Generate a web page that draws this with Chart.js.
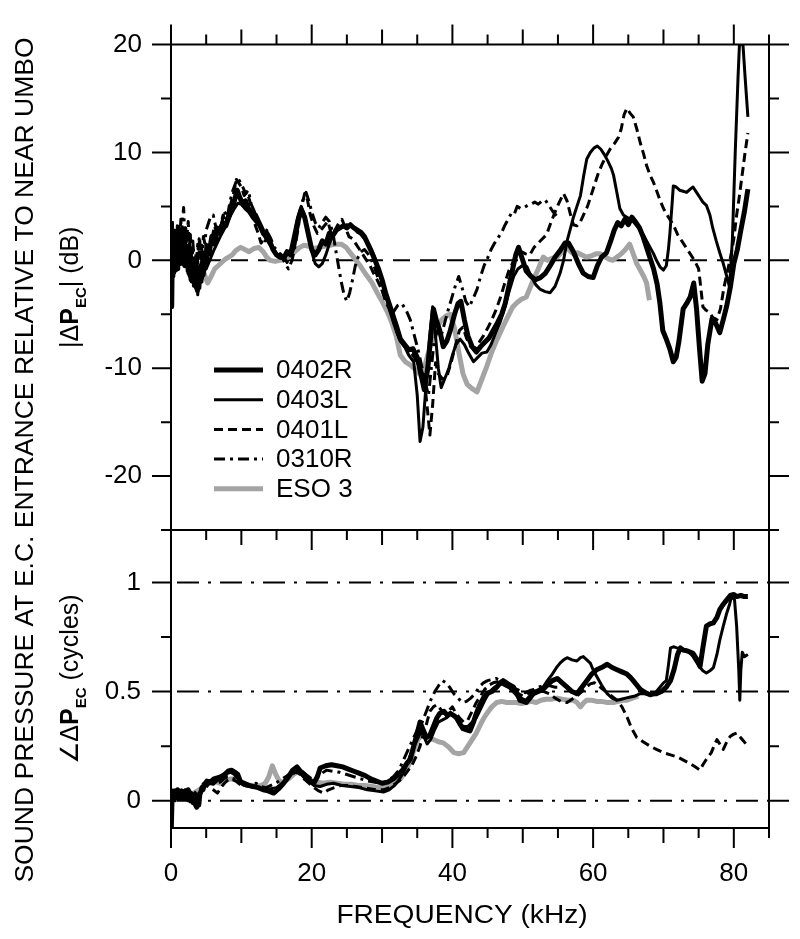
<!DOCTYPE html>
<html>
<head>
<meta charset="utf-8">
<script src="https://cdn.jsdelivr.net/npm/chart.js@4.4.1/dist/chart.umd.min.js"></script>
<style>
  html, body { margin: 0; padding: 0; background: #fff; }
  #wrap { position: relative; width: 800px; height: 939px; }
  #wrap canvas { position: absolute; left: 0; top: 0; }
</style>
</head>
<body>
<div id="wrap">
  <canvas id="magChart" width="800" height="939"></canvas>
  <canvas id="phaseChart" width="800" height="939"></canvas>
</div>
<script>
// ---- data: [frequency kHz, value] ----
const seriesNames = ['0402R', '0403L', '0401L', '0310R', 'ESO 3'];

const freqTicks = [0, 5, 10, 15, 20, 25, 30, 35, 40, 45, 50, 55, 60, 65, 70, 75, 80, 85];
const freqLabels = [0, 20, 40, 60, 80];
const magTicks = [-25, -20, -15, -10, -5, 0, 5, 10, 15, 20];
const magLabels = [20, 10, 0, -10, -20];
const phaseTicks = [0, 0.25, 0.5, 0.75, 1];
const phaseLabels = [0, 0.5, 1];
const magRefLines = [0];
const phaseRefLines = [0, 0.5, 1];

// magnitude |dP_EC| (dB)
const mag0402R = [[0,-1],[0.1,-4.3],[0.2,2],[0.3,-1],[0.4,1.5],[0.5,-0.5],[0.6,2.2],[0.7,0],[0.8,1.8],[0.9,-0.8],[1.0,2.5],[1.1,0.5],[1.2,1.8],[1.35,-0.3],[1.5,1.5],[1.65,0.2],[1.8,2],[1.95,-0.5],[2.1,1.2],[2.25,-0.2],[2.4,0.8],[2.55,-1.2],[2.7,0.3],[2.85,-1.8],[3.0,0],[3.15,-1.5],[3.3,-0.3],[3.45,-2.2],[3.6,-0.8],[3.75,-2.8],[3.9,-1],[4.05,-2],[4.2,-0.5],[4.35,-1.6],[4.5,0],[4.65,-1],[4.8,0.6],[5.0,-0.3],[5.2,1],[5.4,0.6],[5.8,2.2],[6.2,1.5],[6.6,3],[7.0,2.5],[7.4,3.5],[7.8,3.2],[8.2,4],[8.6,4.8],[9.0,5.5],[9.4,6.5],[9.8,5.8],[10.2,5.2],[10.6,5.5],[11.0,4.8],[11.5,4.5],[12.0,4.2],[12.5,3.5],[13.0,2.8],[13.5,2.3],[14.0,1.8],[14.5,1],[15.0,0.5],[15.5,0.3],[16.0,0.2],[16.5,0.8],[17.0,0.5],[17.5,1.5],[18.0,3.5],[18.5,4.7],[19.0,4],[19.5,2.5],[20.0,1],[20.5,0.5],[21.0,1],[21.5,1.8],[22.0,1.5],[22.5,2.5],[23.0,2.3],[23.5,2.8],[24.0,3],[24.5,3.2],[25.0,3],[25.5,3.3],[26.0,3],[26.5,2.8],[27.0,2.6],[27.5,2.2],[28.0,1.5],[28.5,0.8],[29.0,0],[29.5,-0.8],[30.0,-1.8],[30.5,-3],[31.0,-4],[31.5,-5],[32.0,-6],[32.6,-7.3],[33.2,-7.8],[33.8,-8.3],[34.4,-8.2],[35.0,-9],[35.5,-10.5],[36.0,-12],[36.5,-10],[37.0,-6.5],[37.3,-4.5],[37.7,-5.5],[38.2,-6.5],[38.7,-8],[39.2,-7.5],[39.7,-6.5],[40.3,-5],[40.8,-4],[41.2,-3.8],[41.7,-5.5],[42.2,-7],[42.8,-8],[43.4,-8.5],[44.0,-8],[44.6,-7.6],[45.2,-7.2],[45.8,-6.5],[46.4,-5.8],[47.0,-5],[47.5,-4],[48.0,-2.5],[48.5,-1],[49.0,0.5],[49.4,1.2],[49.9,0.2],[50.5,-1],[51.2,-1.5],[51.8,-1.8],[52.5,-1.6],[53.2,-1.2],[53.9,-0.5],[54.6,0.3],[55.3,0.9],[56.0,1.6],[56.5,1.6],[57.2,0.8],[57.9,-0.3],[58.6,-1.2],[59.3,-1.5],[60.0,-1.6],[60.6,-0.5],[61.2,0.3],[61.9,0.7],[62.5,1.8],[63.0,2.8],[63.5,3.5],[64.0,3.2],[64.5,3.8],[65.0,3.3],[65.5,4],[66.0,3.6],[66.6,3],[67.1,2.2],[67.6,1.2],[68.1,0.2],[68.6,-0.8],[69.1,-2.2],[69.5,-4],[69.9,-6.5],[70.4,-7.3],[70.9,-8.2],[71.4,-9.4],[71.8,-9],[72.2,-7.5],[72.8,-4.5],[73.3,-4],[73.8,-3.4],[74.3,-2.1],[74.7,-4.5],[75.1,-8],[75.5,-11.2],[75.9,-10.5],[76.3,-7.8],[76.9,-5.4],[77.4,-5.8],[78.0,-6.7],[78.5,-5.5],[79.0,-4.2],[79.5,-2.5],[80.0,-0.3],[80.5,1],[81.0,2.8],[81.5,4.5],[82.0,6.6]];
const mag0403L = [[0,1],[0.1,-2.5],[0.2,1.5],[0.3,-1.5],[0.4,2.8],[0.5,0.2],[0.6,1.2],[0.7,-1],[0.8,1.8],[0.9,0.3],[1.0,-0.8],[1.1,1.6],[1.25,-0.3],[1.4,1.2],[1.55,2.2],[1.7,0.4],[1.85,1.6],[2.0,-0.2],[2.15,0.8],[2.3,-1],[2.45,0.2],[2.6,-1.5],[2.75,-0.2],[2.9,-2],[3.05,-0.8],[3.2,-2.4],[3.35,-1],[3.5,-2.6],[3.65,-1.4],[3.8,-3.2],[3.95,-1.8],[4.1,-2.6],[4.25,-1],[4.4,-2],[4.55,-0.6],[4.7,-1.4],[4.85,-0.4],[5.0,-0.8],[5.5,0],[6.0,0.8],[6.5,1.5],[7.0,2.2],[7.5,2.8],[8.0,3.5],[8.5,4.2],[9.0,4.8],[9.5,5.3],[10.0,5.2],[10.5,4.8],[11.0,4.5],[11.5,4],[12.0,3.6],[12.5,3.2],[13.0,2.5],[13.5,2],[14.0,1.5],[14.5,1],[15.0,0.6],[15.5,0.4],[16.0,0.2],[16.5,0.5],[17.0,1],[17.5,2.5],[18.0,4],[18.5,5],[19.0,4.2],[19.5,2.5],[20.0,0.8],[20.5,-0.3],[21.0,-0.6],[21.5,-0.3],[22.0,0.5],[22.5,1.5],[23.0,2.3],[23.5,2.8],[24.0,3.1],[24.5,3.2],[25.0,3.3],[25.5,3.2],[26.0,3],[26.5,2.6],[27.0,2.4],[27.5,2],[28.0,1.6],[28.5,1],[29.0,0.2],[29.5,-0.8],[30.0,-2],[30.5,-3.2],[31.0,-4.5],[31.5,-5.5],[32.0,-6.5],[32.6,-7.5],[33.2,-8],[33.8,-8.8],[34.5,-9.4],[35.0,-12.5],[35.4,-16.8],[35.8,-15.5],[36.2,-12],[36.7,-7.5],[37.2,-4.3],[37.6,-7],[38.0,-10],[38.4,-11.8],[38.9,-11],[39.5,-10],[40.0,-8.8],[40.5,-7.8],[41.1,-7.3],[41.7,-7.8],[42.3,-8.6],[43.0,-9.4],[43.6,-9],[44.2,-8.6],[44.9,-8.5],[45.5,-7.8],[46.1,-6.8],[46.8,-5.7],[47.4,-4.5],[48.0,-3],[48.7,-1.5],[49.3,-0.8],[49.9,-0.5],[50.6,-0.6],[51.2,-1.5],[51.9,-2.3],[52.5,-2.7],[53.2,-2.9],[53.9,-3],[54.6,-2.4],[55.3,-1.2],[55.8,0],[56.3,1.8],[56.8,3],[57.2,4],[57.7,5],[58.2,6],[58.7,8],[59.1,9.4],[59.6,10],[60.1,10.4],[60.6,10.6],[61.1,10.3],[61.6,9.8],[62.1,9.2],[62.6,8.5],[62.9,7.9],[63.4,6.2],[63.8,4.8],[64.3,4.2],[64.8,4],[65.3,3.8],[65.7,3.6],[66.2,3.2],[66.7,2.8],[67.2,2.3],[67.6,1.8],[68.1,1.2],[68.6,0.6],[69.0,0],[69.5,-0.6],[70.0,-0.9],[70.4,-0.5],[70.7,1],[70.9,2.4],[71.2,5],[71.4,6.9],[71.8,6.8],[72.3,6.5],[72.8,6.4],[73.3,6.3],[73.8,6.6],[74.2,6.8],[74.7,6.3],[75.2,5.8],[75.6,5.4],[76.1,5.1],[76.6,4.2],[77.0,3],[77.5,1.8],[78.0,0.7],[78.5,-0.3],[79.0,-1.5],[79.4,-2.5],[79.8,2],[80.2,10],[80.6,17],[80.8,20],[81.3,20],[81.6,17],[82.0,13.3]];
const mag0401L = [[0,2],[0.1,-3.5],[0.2,3.5],[0.3,0],[0.4,2.8],[0.5,-1.2],[0.6,3],[0.7,0.8],[0.8,-0.5],[0.9,2],[1.0,1],[1.1,3.2],[1.25,0.5],[1.4,2.8],[1.55,0.2],[1.7,2.2],[1.85,1],[2.0,3.2],[2.15,0.6],[2.3,2.5],[2.45,3.6],[2.6,1.2],[2.75,2.4],[2.9,0.2],[3.05,1],[3.2,-1],[3.35,0.4],[3.5,-1.8],[3.65,0.2],[3.8,1.5],[3.95,0.3],[4.1,1.8],[4.25,-0.2],[4.4,0.8],[4.55,-0.6],[4.7,1],[4.85,0.2],[5.0,1.8],[5.4,0.5],[5.8,2],[6.2,3.2],[6.6,2.2],[7.0,3],[7.4,4.2],[7.8,3.5],[8.2,4.5],[8.6,5.5],[9.0,6.5],[9.3,7.5],[9.6,7.2],[10.0,6.8],[10.4,6],[10.8,6.3],[11.2,5.5],[11.6,4.5],[12.0,3.2],[12.4,2.5],[12.8,1.6],[13.2,2],[13.6,2.8],[14.0,1.8],[14.5,1.2],[15.0,0.6],[15.5,0.2],[16.0,0.4],[16.5,-0.2],[17.0,0.5],[17.5,1.5],[18.0,3],[18.5,4.8],[19.0,6.2],[19.4,5.6],[19.8,4.2],[20.3,3.2],[20.8,2.5],[21.3,2.8],[21.8,3.2],[22.3,3.6],[22.8,2.4],[23.3,2.8],[23.8,3.4],[24.3,3.8],[24.8,3],[25.3,2.2],[25.8,2],[26.3,1.5],[26.8,1],[27.3,0.5],[27.8,0],[28.3,-0.5],[28.8,-1.2],[29.3,-1.8],[29.8,-2.5],[30.3,-3.2],[30.8,-4],[31.4,-5.2],[32.0,-6.5],[32.6,-7.5],[33.2,-8],[33.8,-8.4],[34.4,-8.8],[35.0,-9.5],[35.5,-10],[36.0,-11],[36.4,-13.5],[36.8,-16.2],[37.2,-13.3],[37.6,-9.5],[38.0,-10.5],[38.6,-11],[39.2,-10.8],[39.8,-9.5],[40.4,-8],[41.0,-6.5],[41.5,-6.2],[42.0,-7.2],[42.6,-8],[43.2,-8.2],[43.8,-7.6],[44.4,-7],[45.0,-6.3],[45.6,-5.5],[46.2,-4.6],[46.8,-3.5],[47.4,-2.2],[48.0,-1],[48.6,-0.2],[49.2,0.4],[49.8,0.8],[50.4,0.6],[51.0,0.5],[51.6,1.2],[52.2,1.6],[52.8,2],[53.4,2.4],[54.0,3.5],[54.6,4.5],[55.2,5.4],[55.8,6.2],[56.3,5.5],[56.8,4.2],[57.2,3.3],[57.7,3.2],[58.2,3.6],[58.7,4.3],[59.2,5],[59.7,6],[60.2,7],[60.7,8],[61.2,8.8],[61.8,9.6],[62.4,10.3],[63.0,10.8],[63.6,11.4],[64.0,12.2],[64.4,13.5],[64.8,14.1],[65.3,13.6],[65.7,13.3],[66.2,12.2],[66.7,10.9],[67.2,9.8],[67.6,8.8],[68.1,7.9],[68.6,7.2],[69.0,6.5],[69.5,5.6],[70.0,4.8],[70.7,4],[71.4,3.3],[72.0,2.4],[72.6,1.8],[73.2,1.2],[73.8,0.6],[74.4,0],[75.0,-0.8],[75.3,-2.5],[75.6,-4.3],[76.0,-4.6],[76.5,-4.8],[77.0,-5.3],[77.6,-5.5],[78.1,-4.5],[78.6,-2.5],[79.1,-1],[79.6,0.5],[80.0,2],[80.4,4.2],[80.8,6],[81.2,8],[81.6,10],[82.0,11.8]];
const mag0310R = [[0,1],[0.1,-4.5],[0.2,3.5],[0.3,1],[0.4,-0.5],[0.5,2.8],[0.6,1.8],[0.7,-0.2],[0.8,1.2],[0.9,3.2],[1.0,1.5],[1.1,3.5],[1.2,1],[1.3,2.5],[1.4,3.8],[1.5,2.2],[1.6,3.6],[1.7,4.2],[1.8,4.9],[1.9,3],[2.0,1.8],[2.1,3],[2.2,0.8],[2.35,2],[2.5,0.2],[2.65,1.5],[2.8,-0.5],[2.95,1],[3.1,1.8],[3.25,0.4],[3.4,-0.8],[3.55,0.6],[3.7,-1.2],[3.85,0.8],[4.0,2],[4.15,0.8],[4.3,1.6],[4.45,0.6],[4.6,2.2],[4.8,1.6],[5.0,2.8],[5.2,3.2],[5.6,4],[6.0,4.2],[6.4,3],[6.8,2.2],[7.2,3.5],[7.6,4.5],[8.0,4],[8.4,5.5],[8.8,6.5],[9.2,7.2],[9.5,7.6],[9.8,7.3],[10.2,6.8],[10.6,6.2],[11.0,6.5],[11.4,5.2],[11.8,4.6],[12.2,4],[12.6,3.2],[13.0,2.5],[13.4,1.8],[13.8,2.5],[14.2,2],[14.7,1.2],[15.2,0.8],[15.7,0.5],[16.2,-0.3],[16.7,-0.8],[17.2,0],[17.7,1.5],[18.2,3.5],[18.7,5.5],[19.2,6.3],[19.6,5.5],[20.0,4.5],[20.5,3.5],[21.0,3],[21.5,3.5],[22.0,4],[22.5,3.6],[23.0,2.6],[23.4,1],[23.8,-0.5],[24.2,-2],[24.6,-3.2],[25.0,-3.8],[25.4,-3],[25.8,-1.8],[26.2,-0.5],[26.6,0.3],[27.0,0.8],[27.5,1],[28.0,0.6],[28.5,0],[29.0,-0.8],[29.5,-1.8],[30.0,-2.8],[30.5,-3.8],[31.0,-4.5],[31.6,-4.8],[32.2,-4.2],[32.8,-4],[33.4,-4.6],[34.0,-5.5],[34.6,-7],[35.2,-8.5],[35.7,-10],[36.2,-11.5],[36.6,-12.5],[37.0,-10],[37.4,-7.5],[37.9,-6.5],[38.4,-7],[38.9,-5.8],[39.4,-4.6],[39.9,-3.5],[40.4,-2.4],[40.9,-1.5],[41.4,-2.6],[41.9,-3.8],[42.4,-4.3],[42.9,-3.6],[43.5,-2.7],[44.0,-1.5],[44.5,-0.5],[45.0,0.2],[45.5,1],[46.0,1.6],[46.5,2.1],[47.0,2.6],[47.5,3.3],[48.0,3.9],[48.4,4.4],[48.8,4.3],[49.2,5],[49.7,4.8],[50.2,4.9],[50.7,5.1],[51.2,5.2],[51.7,5.4],[52.2,5.2],[52.7,5.5],[53.2,5.6],[53.7,5.1],[54.2,4.6],[54.7,4.2],[55.0,4]];
const magESO3 = [[0,0],[0.4,0.6],[0.8,-0.2],[1.2,0.4],[1.7,0],[2.2,0.3],[2.7,-0.4],[3.2,-0.2],[3.7,-0.6],[4.2,-0.3],[4.7,-1.2],[5.2,-2.1],[5.7,-1.5],[6.2,-0.8],[6.7,-0.5],[7.2,-0.2],[7.7,0.1],[8.2,0.3],[8.7,0.5],[9.2,0.9],[9.9,1.2],[10.5,1],[11.1,0.8],[11.8,1.1],[12.5,1.2],[13.1,0.8],[13.6,0.3],[14.1,0],[14.8,-0.1],[15.5,0],[16.2,0.1],[16.9,0.4],[17.6,0.8],[18.3,1.2],[18.9,1.4],[19.6,1.3],[20.3,1.1],[21.0,1.2],[21.8,1.3],[22.6,1.4],[23.4,1.5],[24.2,1.5],[24.9,1.2],[25.6,0.6],[26.3,0],[27.0,-0.6],[27.7,-1.3],[28.5,-2],[29.3,-3],[30.0,-3.8],[30.7,-4.7],[31.4,-5.8],[32.0,-7],[32.6,-8.8],[33.3,-9.4],[34.0,-9.7],[34.7,-10.1],[35.4,-10.6],[36.0,-10],[36.6,-8.5],[37.2,-7.2],[37.8,-6.2],[38.5,-5.5],[39.2,-5.1],[39.7,-5],[40.3,-6.3],[40.9,-8.5],[41.5,-10.5],[42.1,-11.5],[42.8,-11.9],[43.5,-12.2],[44.2,-11],[44.9,-9.8],[45.6,-8.5],[46.3,-7.4],[46.8,-6.7],[47.3,-6],[47.9,-5.2],[48.6,-4.3],[49.2,-3.9],[49.8,-3.6],[50.5,-3.4],[51.0,-2.6],[51.5,-1.8],[52.2,-0.8],[52.9,0.3],[53.5,0],[54.2,0.2],[54.9,0.3],[55.6,0.8],[56.3,1.2],[56.8,0.8],[57.2,0.6],[57.8,0.7],[58.4,0.5],[59.0,0.3],[59.7,0.4],[60.4,0.6],[61.0,0.6],[61.7,0.3],[62.3,0.1],[62.8,0],[63.4,0.3],[64.0,0.6],[64.6,1],[65.2,1.5],[65.7,0.6],[66.2,-0.3],[66.7,-0.9],[67.2,-1.5],[67.6,-2.1],[68.0,-3.7]];

// phase angle dP_EC (cycles)
const ph0402R = [[0,0],[0.05,-0.12],[0.15,0.02],[0.25,0.045],[0.35,0.01],[0.45,0.04],[0.55,0.015],[0.65,0.045],[0.8,0.02],[0.95,0.05],[1.1,0.015],[1.25,0.04],[1.4,0.01],[1.55,0.045],[1.7,0.02],[1.85,0.04],[2.0,0.01],[2.15,0.045],[2.3,0.025],[2.45,0.05],[2.6,0.02],[2.75,0.035],[2.9,0],[3.05,0.02],[3.2,-0.01],[3.35,0.01],[3.5,-0.02],[3.65,-0.03],[3.8,0],[3.95,-0.02],[4.1,0.03],[4.25,0.04],[4.4,0.06],[4.55,0.05],[4.7,0.075],[4.9,0.08],[5.1,0.09],[5.6,0.085],[6.1,0.1],[6.6,0.105],[7.1,0.11],[7.6,0.12],[8.1,0.135],[8.6,0.14],[9.1,0.13],[9.5,0.12],[9.9,0.085],[10.4,0.075],[11.0,0.07],[11.7,0.065],[12.4,0.06],[13.1,0.05],[13.8,0.045],[14.6,0.035],[15.3,0.055],[16.0,0.08],[16.7,0.11],[17.3,0.14],[17.9,0.155],[18.4,0.135],[18.8,0.125],[19.5,0.1],[20.3,0.08],[20.8,0.11],[21.2,0.15],[22.0,0.16],[22.8,0.165],[23.6,0.16],[24.4,0.155],[25.2,0.145],[26.0,0.135],[26.8,0.125],[27.6,0.115],[28.4,0.1],[29.2,0.09],[30.0,0.08],[30.8,0.085],[31.6,0.1],[32.3,0.12],[32.9,0.14],[33.5,0.17],[34.0,0.19],[34.5,0.25],[35.0,0.31],[35.4,0.36],[35.9,0.32],[36.3,0.29],[36.8,0.3],[37.3,0.34],[37.8,0.38],[38.2,0.4],[38.8,0.41],[39.3,0.39],[39.7,0.4],[40.2,0.39],[40.6,0.38],[41.1,0.35],[41.5,0.33],[42.0,0.325],[42.5,0.32],[43.0,0.36],[43.4,0.4],[43.9,0.44],[44.4,0.47],[44.9,0.49],[45.6,0.5],[46.3,0.52],[46.8,0.54],[47.2,0.55],[47.9,0.535],[48.7,0.52],[49.2,0.49],[49.6,0.46],[50.1,0.455],[50.5,0.45],[51.0,0.47],[51.5,0.49],[52.2,0.5],[52.9,0.51],[53.5,0.53],[54.2,0.55],[54.9,0.56],[55.6,0.54],[56.3,0.52],[57.0,0.5],[57.7,0.49],[58.4,0.52],[59.1,0.55],[59.8,0.58],[60.5,0.6],[61.2,0.61],[62.0,0.625],[62.7,0.61],[63.4,0.6],[64.1,0.59],[64.8,0.58],[65.3,0.565],[65.7,0.55],[66.2,0.53],[66.7,0.51],[67.4,0.495],[68.1,0.485],[68.6,0.49],[69.0,0.49],[69.7,0.5],[70.4,0.52],[71.0,0.55],[71.5,0.6],[72.0,0.67],[72.4,0.7],[72.8,0.69],[73.5,0.685],[74.2,0.675],[74.7,0.65],[75.2,0.615],[75.6,0.7],[76.1,0.8],[76.6,0.81],[77.1,0.815],[77.6,0.84],[78.0,0.875],[78.5,0.9],[79.0,0.92],[79.5,0.94],[80.0,0.945],[80.4,0.935],[81.0,0.94],[81.5,0.935],[82.0,0.935]];
const ph0403L = [[0,0.02],[0.15,0.045],[0.3,0.01],[0.45,0.04],[0.6,0],[0.75,0.035],[0.9,0.01],[1.05,0.04],[1.2,0.005],[1.35,0.03],[1.5,0.015],[1.65,0.04],[1.8,0.01],[1.95,0.035],[2.1,0.005],[2.25,0.03],[2.4,0],[2.55,0.025],[2.7,-0.005],[2.85,0.02],[3.0,-0.01],[3.15,0.02],[3.3,-0.015],[3.45,0.01],[3.6,-0.02],[3.75,0.015],[3.9,0.03],[4.05,0.02],[4.2,0.05],[4.35,0.04],[4.5,0.065],[4.7,0.06],[4.9,0.075],[5.1,0.07],[5.5,0.08],[6.0,0.075],[6.5,0.09],[7.0,0.1],[7.5,0.12],[8.0,0.125],[8.5,0.13],[9.0,0.12],[9.5,0.1],[10.0,0.08],[10.5,0.07],[11.2,0.065],[12.0,0.06],[12.8,0.055],[13.5,0.05],[14.2,0.055],[15.0,0.06],[15.8,0.08],[16.5,0.1],[17.2,0.125],[17.9,0.14],[18.5,0.12],[19.1,0.1],[19.7,0.085],[20.3,0.07],[21.2,0.065],[22.1,0.075],[23.1,0.08],[24.3,0.07],[25.5,0.065],[26.7,0.06],[27.9,0.05],[29.0,0.045],[30.2,0.04],[31.0,0.05],[31.8,0.07],[32.5,0.1],[33.2,0.14],[33.8,0.19],[34.4,0.24],[35.0,0.28],[35.6,0.32],[36.0,0.29],[36.4,0.26],[36.9,0.28],[37.4,0.32],[38.0,0.36],[38.6,0.37],[39.2,0.38],[39.8,0.4],[40.4,0.38],[41.0,0.35],[41.6,0.34],[42.2,0.34],[42.8,0.36],[43.4,0.38],[44.0,0.42],[44.6,0.46],[45.3,0.5],[46.0,0.52],[46.7,0.53],[47.4,0.54],[48.0,0.52],[48.6,0.5],[49.2,0.48],[49.8,0.47],[50.4,0.46],[51.0,0.48],[51.6,0.5],[52.3,0.51],[52.9,0.52],[53.5,0.55],[54.2,0.58],[54.8,0.61],[55.3,0.63],[55.8,0.645],[56.3,0.655],[57.0,0.645],[57.7,0.64],[58.2,0.655],[58.6,0.66],[59.1,0.645],[59.6,0.63],[60.0,0.6],[60.5,0.57],[61.2,0.53],[62.0,0.49],[62.7,0.47],[63.4,0.46],[64.0,0.465],[64.6,0.47],[65.3,0.475],[66.0,0.48],[66.7,0.49],[67.6,0.49],[68.6,0.485],[69.0,0.5],[69.5,0.52],[70.0,0.54],[70.4,0.55],[70.7,0.62],[71.0,0.7],[71.5,0.705],[71.9,0.7],[72.6,0.695],[73.3,0.69],[73.8,0.675],[74.2,0.66],[74.7,0.635],[75.2,0.61],[75.6,0.595],[76.1,0.585],[76.6,0.595],[77.1,0.61],[77.6,0.67],[78.0,0.735],[78.5,0.8],[79.0,0.86],[79.4,0.9],[79.7,0.94],[80.1,0.92],[80.4,0.8],[80.7,0.6],[80.85,0.46],[81.0,0.6],[81.2,0.68],[81.5,0.66],[82.0,0.67]];
const ph0401L = [[0,0.03],[0.3,0.01],[0.6,0.04],[1.0,0.02],[1.4,0.045],[1.8,0.025],[2.2,0.04],[2.6,0.02],[3.0,0.035],[3.5,0.02],[4.0,0.045],[4.5,0.06],[5.0,0.07],[5.5,0.06],[6.0,0.05],[6.6,0.035],[7.1,0.06],[7.6,0.08],[8.1,0.095],[8.6,0.1],[9.2,0.09],[9.8,0.075],[10.5,0.07],[11.3,0.065],[12.1,0.06],[13.0,0.055],[14.0,0.05],[14.8,0.04],[15.5,0.06],[16.2,0.09],[16.9,0.11],[17.6,0.13],[18.2,0.125],[18.9,0.1],[19.6,0.08],[20.3,0.06],[21.0,0.045],[21.7,0.035],[22.4,0.05],[23.2,0.06],[24.2,0.07],[25.2,0.07],[26.2,0.065],[27.2,0.06],[28.2,0.055],[29.2,0.05],[30.2,0.05],[31.1,0.06],[32.0,0.08],[32.8,0.1],[33.5,0.13],[34.2,0.16],[34.8,0.2],[35.4,0.25],[35.9,0.31],[36.3,0.35],[36.8,0.41],[37.3,0.43],[37.8,0.44],[38.3,0.42],[38.8,0.4],[39.4,0.41],[40.0,0.43],[40.5,0.4],[41.0,0.38],[41.6,0.36],[42.2,0.37],[42.8,0.41],[43.4,0.45],[44.0,0.48],[44.6,0.51],[45.2,0.53],[45.8,0.54],[46.4,0.545],[47.0,0.535],[47.6,0.525],[48.2,0.515],[48.8,0.5],[49.4,0.49],[50.0,0.48],[50.7,0.49],[51.4,0.5],[52.2,0.505],[53.0,0.5],[53.8,0.49],[54.6,0.47],[55.4,0.455],[56.3,0.45],[57.0,0.465],[57.7,0.48],[58.4,0.5],[59.0,0.52],[59.6,0.535],[60.2,0.54],[60.7,0.53],[61.2,0.515],[61.8,0.5],[62.6,0.48],[63.4,0.46],[64.1,0.43],[64.8,0.385],[65.5,0.33],[66.2,0.29],[67.1,0.27],[68.1,0.25],[69.0,0.235],[70.0,0.22],[71.0,0.21],[72.0,0.2],[72.9,0.185],[73.8,0.17],[74.5,0.155],[75.2,0.14],[75.6,0.165],[76.1,0.19],[76.8,0.22],[77.3,0.26],[77.6,0.28],[78.1,0.255],[78.5,0.235],[79.0,0.27],[79.5,0.295],[80.0,0.305],[80.4,0.31],[80.8,0.295],[81.2,0.28],[81.6,0.265],[82.0,0.25]];
const ph0310R = [[0,0.02],[0.4,0.045],[0.8,0.02],[1.2,0.04],[1.6,0.03],[2.0,0.05],[2.5,0.03],[3.0,0.05],[3.5,0.035],[4.0,0.03],[4.5,0.055],[5.0,0.07],[5.5,0.085],[6.0,0.09],[6.5,0.08],[7.0,0.085],[7.5,0.1],[8.0,0.11],[8.5,0.105],[9.0,0.1],[9.5,0.095],[10.0,0.09],[10.7,0.08],[11.4,0.07],[12.1,0.08],[12.8,0.065],[13.5,0.06],[14.2,0.07],[14.9,0.08],[15.6,0.095],[16.3,0.11],[17.0,0.125],[17.6,0.14],[18.2,0.15],[18.8,0.13],[19.4,0.115],[20.0,0.1],[20.7,0.11],[21.4,0.125],[22.1,0.14],[23.0,0.135],[24.0,0.13],[25.0,0.12],[26.0,0.11],[27.0,0.1],[28.0,0.09],[29.0,0.085],[30.0,0.08],[30.8,0.09],[31.6,0.11],[32.4,0.14],[33.1,0.19],[33.8,0.24],[34.5,0.29],[35.1,0.33],[35.7,0.36],[36.3,0.41],[36.9,0.46],[37.5,0.5],[38.1,0.53],[38.6,0.55],[39.1,0.54],[39.6,0.52],[40.2,0.49],[40.8,0.47],[41.4,0.45],[42.0,0.455],[42.6,0.47],[43.2,0.49],[43.8,0.52],[44.4,0.54],[45.0,0.55],[45.6,0.555],[46.2,0.56],[46.8,0.55],[47.4,0.54],[48.0,0.53],[48.6,0.52],[49.2,0.51],[49.8,0.5],[50.4,0.495],[51.0,0.505],[51.6,0.51],[52.2,0.52],[52.8,0.525],[53.4,0.53],[54.0,0.525],[54.6,0.52],[55.0,0.52]];
const phESO3 = [[0,0.01],[0.5,0.03],[1.0,0.02],[1.5,0.04],[2.0,0.035],[2.5,0.045],[3.0,0.03],[3.5,0.04],[4.0,0.05],[4.5,0.06],[5.0,0.075],[5.5,0.08],[6.0,0.09],[6.5,0.085],[7.0,0.08],[7.5,0.09],[8.0,0.095],[8.5,0.1],[9.0,0.1],[9.5,0.095],[10.0,0.085],[10.7,0.075],[11.4,0.07],[12.1,0.065],[12.8,0.07],[13.4,0.08],[13.9,0.11],[14.4,0.16],[14.9,0.12],[15.4,0.09],[16.0,0.085],[16.7,0.1],[17.4,0.12],[18.0,0.135],[18.6,0.125],[19.3,0.105],[20.0,0.09],[20.8,0.085],[21.6,0.08],[22.6,0.085],[23.6,0.08],[24.6,0.075],[25.6,0.075],[26.6,0.07],[27.6,0.07],[28.6,0.065],[29.6,0.06],[30.6,0.065],[31.6,0.08],[32.6,0.1],[33.3,0.13],[34.0,0.18],[34.6,0.24],[35.1,0.28],[35.6,0.3],[36.3,0.29],[37.3,0.28],[38.0,0.27],[38.7,0.265],[39.5,0.245],[40.2,0.22],[40.9,0.215],[41.6,0.22],[42.1,0.245],[42.5,0.265],[43.0,0.29],[43.4,0.31],[44.0,0.35],[44.5,0.38],[44.9,0.4],[45.6,0.43],[46.3,0.45],[47.0,0.455],[47.7,0.45],[48.4,0.45],[49.1,0.45],[49.8,0.445],[50.5,0.45],[51.2,0.455],[51.9,0.45],[52.6,0.46],[53.3,0.465],[54.0,0.465],[54.9,0.47],[55.6,0.465],[56.4,0.46],[57.2,0.46],[57.7,0.45],[58.2,0.43],[58.7,0.45],[59.1,0.46],[59.8,0.46],[60.5,0.455],[61.2,0.455],[62.0,0.45],[62.9,0.45],[63.6,0.455],[64.3,0.46],[64.8,0.46],[65.6,0.47],[66.4,0.48]];

const magSeries = [mag0402R, mag0403L, mag0401L, mag0310R, magESO3];
const phaseSeries = [ph0402R, ph0403L, ph0401L, ph0310R, phESO3];

// ---- styles ----
const FONT = '"Liberation Sans", Arial, Helvetica, sans-serif';
const GRAY = '#a4a4a4';
const seriesStyle = [
  { color: '#000', width: 5, dash: [] },
  { color: '#000', width: 3, dash: [] },
  { color: '#000', width: 3, dash: [9, 5] },
  { color: '#000', width: 3, dash: [11, 5, 3, 5] },
  { color: GRAY,  width: 5, dash: [] }
];

Chart.defaults.font.family = FONT;
Chart.defaults.color = '#000';

function makeDatasets(list) {
  return list.map((pts, i) => ({
    label: seriesNames[i],
    data: pts.map(p => ({ x: p[0], y: p[1] })),
    borderColor: seriesStyle[i].color,
    borderWidth: seriesStyle[i].width,
    borderDash: seriesStyle[i].dash,
    borderJoinStyle: 'round',
    pointRadius: 0,
    tension: 0,
    fill: false
  }));
}

function freqTickLen(f) { return f % 20 === 0 ? 20 : (f % 10 === 0 ? 15 : 10); }

// axes frame with outward / inward tick marks
const framePlugin = {
  id: 'frame',
  afterDatasetsDraw(chart, args, o) {
    const { ctx, chartArea: a, scales: { x, y } } = chart;
    ctx.save();
    ctx.strokeStyle = '#000';
    ctx.lineWidth = 2;
    ctx.setLineDash([]);
    ctx.beginPath();
    ctx.moveTo(a.left, a.top - o.leftTop); ctx.lineTo(a.left, a.bottom + o.leftBottom);
    ctx.moveTo(a.right, a.top - o.rightTop); ctx.lineTo(a.right, a.bottom + o.rightBottom);
    o.hLines.forEach(h => {
      const yy = h.edge === 'top' ? a.top : a.bottom;
      ctx.moveTo(a.left - h.extL, yy); ctx.lineTo(a.right + h.extR, yy);
      freqTicks.forEach(f => {
        const px = x.getPixelForValue(f);
        ctx.moveTo(px, yy); ctx.lineTo(px, yy + h.dir * freqTickLen(f));
      });
    });
    o.yTicks.forEach(v => {
      const py = y.getPixelForValue(v);
      const major = Math.abs(v / o.majorStep - Math.round(v / o.majorStep)) < 1e-6;
      ctx.moveTo(a.left - (major ? 19 : 10), py); ctx.lineTo(a.left, py);
      ctx.moveTo(a.right, py); ctx.lineTo(a.right + (major ? 20 : 10), py);
    });
    ctx.stroke();
    ctx.restore();
  }
};

// dashed reference lines
const refPlugin = {
  id: 'refLines',
  beforeDatasetsDraw(chart, args, o) {
    const { ctx, chartArea: a, scales: { y } } = chart;
    ctx.save();
    ctx.strokeStyle = '#000';
    ctx.lineWidth = 2;
    ctx.setLineDash(o.dash);
    o.values.forEach(v => {
      const py = y.getPixelForValue(v);
      ctx.beginPath();
      ctx.moveTo(a.left + 6, py); ctx.lineTo(a.right, py);
      ctx.stroke();
    });
    ctx.restore();
  }
};

function drawRotatedRich(ctx, parts, baseX, centerY) {
  ctx.save();
  ctx.translate(baseX, centerY);
  ctx.rotate(-Math.PI / 2);
  ctx.fillStyle = '#000';
  ctx.textAlign = 'left';
  ctx.textBaseline = 'alphabetic';
  let total = 0;
  parts.forEach(p => { ctx.font = p.font; p.w = ctx.measureText(p.text).width; total += p.w; });
  let cx = -total / 2;
  parts.forEach(p => { ctx.font = p.font; ctx.fillText(p.text, cx, p.dy || 0); cx += p.w; });
  ctx.restore();
}

const textPlugin = {
  id: 'texts',
  afterDraw(chart, args, o) {
    const ctx = chart.ctx;
    const a = chart.chartArea;
    const midY = (a.top + a.bottom) / 2;
    if (o.mainTitle) {
      drawRotatedRich(ctx, [{ text: o.mainTitle, font: '26.5px ' + FONT }], 33, 460);
    }
    drawRotatedRich(ctx, o.panelTitle, 78, midY);
    if (o.xTitle) {
      ctx.save();
      ctx.font = '26px ' + FONT;
      ctx.fillStyle = '#000';
      ctx.textAlign = 'center';
      ctx.textBaseline = 'alphabetic';
      ctx.translate(462, 923);
      ctx.scale(1.08, 1);
      ctx.fillText(o.xTitle, 0, 0);
      ctx.restore();
    }
    if (o.legend) {
      ctx.save();
      ctx.font = '26px ' + FONT;
      ctx.textBaseline = 'middle';
      ctx.textAlign = 'left';
      chart.data.datasets.forEach((ds, i) => {
        const yy = 370 + i * 29.7;
        ctx.strokeStyle = ds.borderColor;
        ctx.lineWidth = ds.borderWidth;
        ctx.setLineDash(ds.borderDash);
        ctx.beginPath();
        ctx.moveTo(214, yy); ctx.lineTo(263, yy);
        ctx.stroke();
        ctx.fillStyle = '#000';
        ctx.fillText(ds.label, 276, yy + 1);
      });
      ctx.restore();
    }
  }
};

const tickFont = { family: FONT, size: 26 };

// ---- top panel: magnitude ----
new Chart(document.getElementById('magChart'), {
  type: 'line',
  data: { datasets: makeDatasets(magSeries) },
  options: {
    responsive: false,
    animation: false,
    events: [],
    layout: { padding: { left: 0, right: 31, top: 33, bottom: 409 } },
    plugins: {
      legend: { display: false },
      tooltip: { enabled: false },
      frame: { leftTop: 20, leftBottom: 0, rightTop: 10, rightBottom: 0, majorStep: 10, yTicks: magTicks,
               hLines: [{ edge: 'top', dir: -1, extL: 19, extR: 20 }] },
      refLines: { values: magRefLines, dash: [17, 10] },
      texts: {
        mainTitle: 'SOUND PRESSURE AT E.C. ENTRANCE RELATIVE TO NEAR UMBO',
        panelTitle: [
          { text: '|\u0394', font: '25px ' + FONT },
          { text: 'P', font: 'bold 25px ' + FONT },
          { text: 'EC', font: 'bold 15px ' + FONT, dy: 8 },
          { text: '| (dB)', font: '25px ' + FONT }
        ],
        legend: true
      }
    },
    scales: {
      x: { type: 'linear', min: 0, max: 85, display: false },
      y: {
        type: 'linear', min: -25, max: 20,
        afterFit: s => { s.width = 171; },
        afterBuildTicks: s => { s.ticks = magLabels.map(v => ({ value: v })); },
        grid: { display: false, drawTicks: false },
        border: { display: false },
        ticks: { padding: 29, color: '#000', font: tickFont, callback: v => String(v) }
      }
    }
  },
  plugins: [refPlugin, framePlugin, textPlugin]
});

// ---- bottom panel: phase ----
new Chart(document.getElementById('phaseChart'), {
  type: 'line',
  data: { datasets: makeDatasets(phaseSeries) },
  options: {
    responsive: false,
    animation: false,
    events: [],
    layout: { padding: { left: 0, right: 31, top: 530, bottom: 0 } },
    plugins: {
      legend: { display: false },
      tooltip: { enabled: false },
      frame: { leftTop: 0, leftBottom: 20, rightTop: 0, rightBottom: 10, majorStep: 0.5, yTicks: phaseTicks,
               hLines: [{ edge: 'top', dir: 1, extL: 10, extR: 10 }, { edge: 'bottom', dir: 1, extL: 0, extR: 0 }] },
      refLines: { values: phaseRefLines, dash: [22, 9, 3, 9] },
      texts: {
        panelTitle: [
          { text: '\u2220\u0394', font: '25px ' + FONT },
          { text: 'P', font: 'bold 25px ' + FONT },
          { text: 'EC', font: 'bold 15px ' + FONT, dy: 8 },
          { text: ' (cycles)', font: '25px ' + FONT }
        ],
        xTitle: 'FREQUENCY (kHz)'
      }
    },
    scales: {
      x: {
        type: 'linear', min: 0, max: 85,
        afterFit: s => { s.height = 111; },
        afterBuildTicks: s => { s.ticks = freqLabels.map(v => ({ value: v })); },
        grid: { display: false, drawTicks: false },
        border: { display: false },
        ticks: { padding: 30, color: '#000', font: tickFont, maxRotation: 0, callback: v => String(v) }
      },
      y: {
        type: 'linear', min: -0.125, max: 1.24,
        afterFit: s => { s.width = 171; },
        afterBuildTicks: s => { s.ticks = phaseLabels.map(v => ({ value: v })); },
        grid: { display: false, drawTicks: false },
        border: { display: false },
        ticks: { padding: 30, color: '#000', font: tickFont, callback: v => String(v) }
      }
    }
  },
  plugins: [refPlugin, framePlugin, textPlugin]
});
</script>
</body>
</html>
